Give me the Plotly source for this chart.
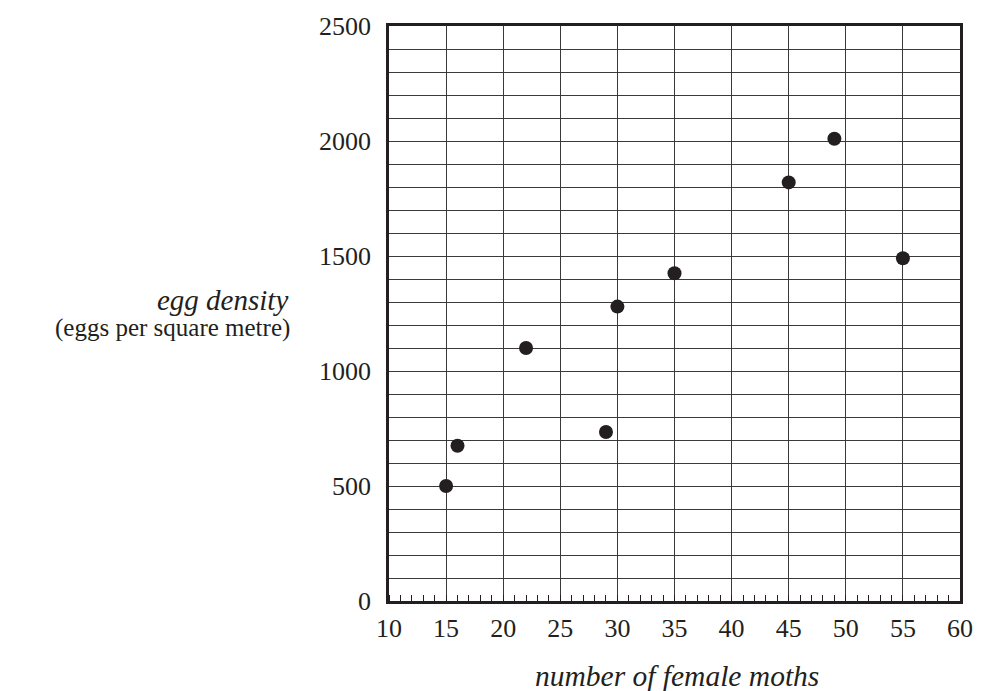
import plotly.graph_objects as go

moths = [15, 16, 22, 29, 30, 35, 45, 49, 55]
egg_density = [500, 675, 1100, 735, 1280, 1425, 1820, 2010, 1490]
y_ticks = [0, 500, 1000, 1500, 2000, 2500]
x_ticks = [10, 15, 20, 25, 30, 35, 40, 45, 50, 55, 60]

FONT = "Liberation Serif, Times New Roman, serif"
INK = "#231f20"
W, H = 985, 691
L, R, T, B = 389, 18, 23, 90
PW, PH = W - L - R, H - T - B


def px_x(px):
    return (px - L) / PW


def px_y(py):
    return (H - B - py) / PH


fig = go.Figure()
fig.add_trace(go.Scatter(
    x=moths, y=egg_density, mode="markers",
    marker=dict(size=14, color=INK),
    showlegend=False, cliponaxis=False, hoverinfo="skip",
))

fig.update_layout(
    width=W, height=H,
    margin=dict(l=L, r=R, t=T, b=B),
    paper_bgcolor="white", plot_bgcolor="white",
    font=dict(family=FONT, size=26, color=INK),
    xaxis=dict(
        range=[10, 60], tickvals=x_ticks, ticks="", showgrid=True,
        gridcolor="#3a3a3a", gridwidth=1.3,
        showline=True, linecolor=INK, linewidth=2.5, mirror=True,
        zeroline=False, ticklabelstandoff=2, fixedrange=True,
        minor=dict(dtick=1, ticks="inside", ticklen=6, tickcolor=INK, tickwidth=1, showgrid=False),
        tickfont=dict(family=FONT, size=26, color=INK),
    ),
    yaxis=dict(
        range=[0, 2500], tickvals=y_ticks, ticks="", showgrid=True,
        gridcolor="#3a3a3a", gridwidth=1.3,
        showline=True, linecolor=INK, linewidth=2.5, mirror=True,
        zeroline=False, ticklabelstandoff=10, fixedrange=True,
        minor=dict(dtick=100, showgrid=True, gridcolor="#3a3a3a", gridwidth=1.3),
        tickfont=dict(family=FONT, size=26, color=INK),
    ),
    annotations=[
        dict(text="<i>egg density</i>", xref="paper", yref="paper",
             x=px_x(289), y=px_y(298), showarrow=False, xanchor="right", yanchor="middle",
             font=dict(family=FONT, size=29, color=INK)),
        dict(text="(eggs per square metre)", xref="paper", yref="paper",
             x=px_x(291), y=px_y(327), showarrow=False, xanchor="right", yanchor="middle",
             font=dict(family=FONT, size=25, color=INK)),
        dict(text="<i>number of female moths</i>", xref="paper", yref="paper",
             x=px_x(681), y=px_y(676), showarrow=False, xanchor="center", yanchor="middle",
             font=dict(family=FONT, size=29.5, color=INK)),
    ],
)

fig.write_html("out.html", config={"displayModeBar": False},
               post_script="document.body.style.margin='0';document.body.style.overflow='hidden';")
